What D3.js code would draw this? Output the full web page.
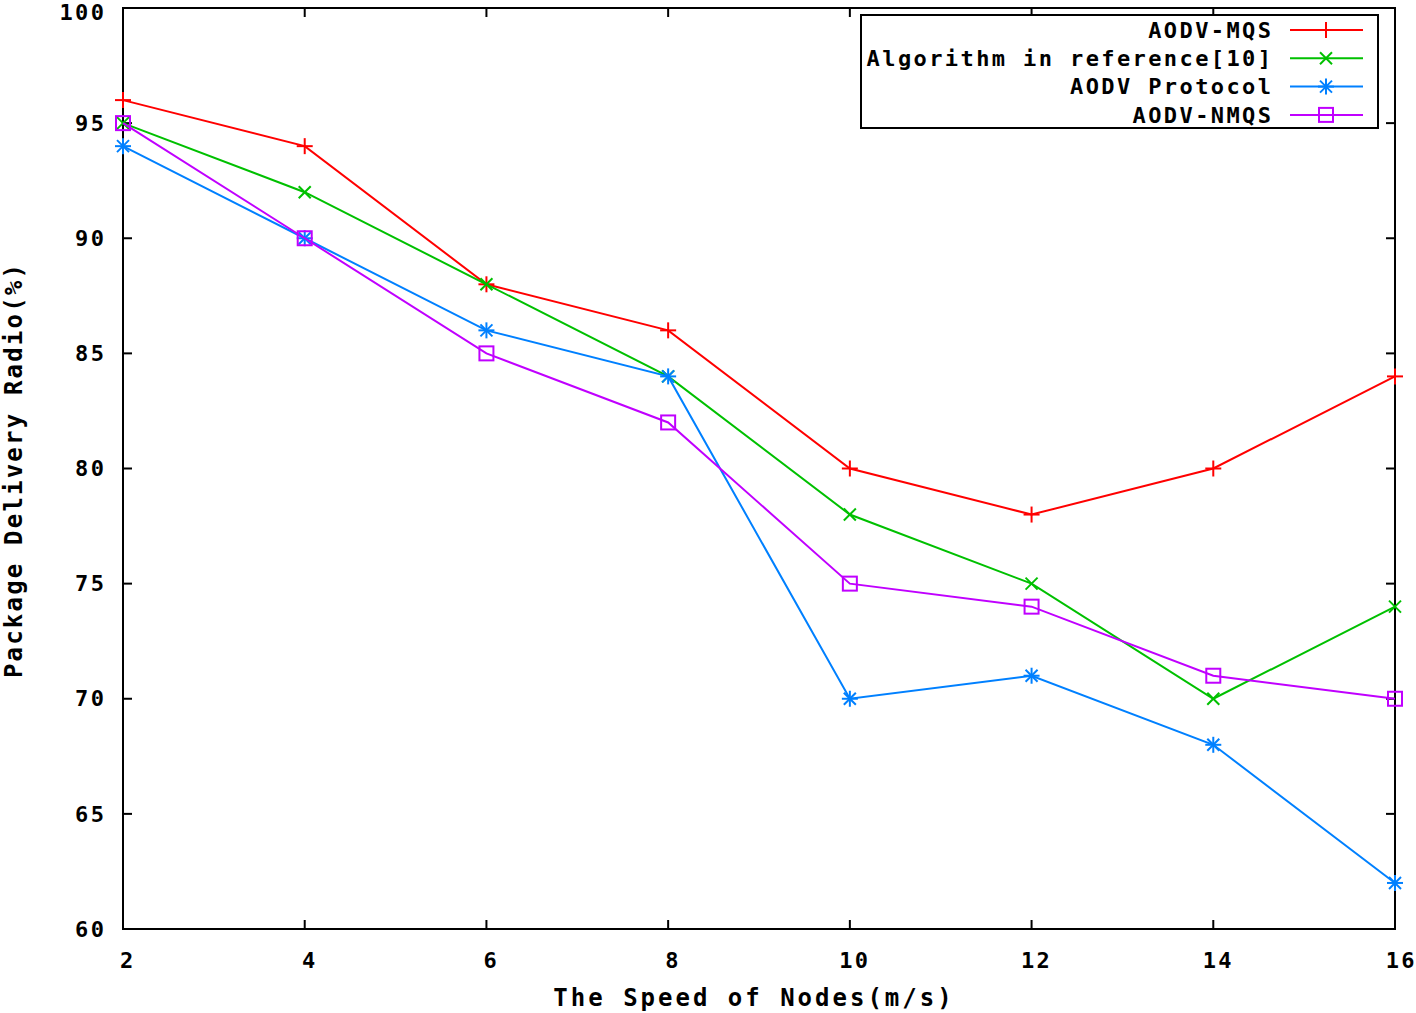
<!DOCTYPE html>
<html><head><meta charset="utf-8">
<script src="https://d3js.org/d3.v7.min.js"></script>
<style>
body{margin:0;background:#fff;}
text{font-family:"DejaVu Sans Mono","Liberation Mono",monospace;font-weight:bold;fill:#000;}
</style></head>
<body><svg id="c" width="1416" height="1013"></svg>
<script>
const speeds = [2,4,6,8,10,12,14,16];
const xTicks = [2,4,6,8,10,12,14,16];
const yTicks = [60,65,70,75,80,85,90,95,100];
const seriesNames = ["AODV-MQS","Algorithm in reference[10]","AODV Protocol","AODV-NMQS"];
const mqs   = [96,94,88,86,80,78,80,84];
const ref10 = [95,92,88,84,78,75,70,74];
const aodv  = [94,90,86,84,70,71,68,62];
const nmqs  = [95,90,85,82,75,74,71,70];
const colors = ["#ff0000","#00c000","#0080ff","#c000ff"];
const markers = ["plus","cross","star","square"];

const svg = d3.select("#c");
const L=123,R=1395,T=8,B=929;
const x = d3.scaleLinear().domain([2,16]).range([L,R]);
const y = d3.scaleLinear().domain([60,100]).range([B,T]);

const seriesData = [mqs,ref10,aodv,nmqs];

// frame
svg.append("rect").attr("x",L).attr("y",T).attr("width",R-L).attr("height",B-T)
  .attr("fill","none").attr("stroke","#000").attr("stroke-width",2);

const LS = 2.4; // letter spacing for small text
// ticks (inward, mirrored)
const tl=9;
yTicks.forEach(v=>{
  svg.append("line").attr("x1",L).attr("x2",L+tl).attr("y1",y(v)).attr("y2",y(v)).attr("stroke","#000").attr("stroke-width",2);
  svg.append("line").attr("x1",R).attr("x2",R-tl).attr("y1",y(v)).attr("y2",y(v)).attr("stroke","#000").attr("stroke-width",2);
  svg.append("text").attr("x",104+LS).attr("y",Math.max(y(v),12)).attr("dy","0.35em").attr("text-anchor","end")
    .attr("font-size",22).attr("letter-spacing",LS).text(v);
});
xTicks.forEach(v=>{
  svg.append("line").attr("x1",x(v)).attr("x2",x(v)).attr("y1",B).attr("y2",B-tl).attr("stroke","#000").attr("stroke-width",2);
  svg.append("line").attr("x1",x(v)).attr("x2",x(v)).attr("y1",T).attr("y2",T+tl).attr("stroke","#000").attr("stroke-width",2);
  let anchor = v===2?"start":(v===16?"end":"middle");
  let xx = v===2?x(v)-3:(v===16?x(v)+22:x(v)+5);
  svg.append("text").attr("x",xx).attr("y",960).attr("dy","0.35em").attr("text-anchor",anchor)
    .attr("font-size",22).attr("letter-spacing",LS).text(v);
});

// axis titles
svg.append("text").attr("x",754).attr("y",998).attr("dy","0.35em").attr("text-anchor","middle")
  .attr("font-size",24).attr("letter-spacing",3).text("The Speed of Nodes(m/s)");
svg.append("text").attr("transform","translate(14,470) rotate(-90)").attr("dy","0.35em")
  .attr("text-anchor","middle").attr("font-size",24).attr("letter-spacing",2.2).text("Package Delivery Radio(%)");

function drawMarker(g,type,cx,cy,color){
  const s=8;
  const st = {stroke:color,"stroke-width":2,fill:"none"};
  const ln=(x1,y1,x2,y2)=>{const l=g.append("line").attr("x1",x1).attr("y1",y1).attr("x2",x2).attr("y2",y2);Object.entries(st).forEach(([k,v])=>l.attr(k,v));};
  if(type==="plus"||type==="star"){ln(cx-s,cy,cx+s,cy);ln(cx,cy-s,cx,cy+s);}
  if(type==="cross"||type==="star"){const d=s*0.75;ln(cx-d,cy-d,cx+d,cy+d);ln(cx-d,cy+d,cx+d,cy-d);}
  if(type==="square"){const r=g.append("rect").attr("x",cx-7).attr("y",cy-7).attr("width",14).attr("height",14);Object.entries(st).forEach(([k,v])=>r.attr(k,v));}
}

const line = d3.line().x((d,i)=>x(speeds[i])).y(d=>y(d));
seriesData.forEach((vals,si)=>{
  svg.append("path").attr("d",line(vals)).attr("fill","none").attr("stroke",colors[si]).attr("stroke-width",2);
  const g = svg.append("g");
  vals.forEach((v,i)=>drawMarker(g,markers[si],x(speeds[i]),y(v),colors[si]));
});

// legend
svg.append("rect").attr("x",861).attr("y",15).attr("width",517).attr("height",113)
  .attr("fill","#fff").attr("stroke","#000").attr("stroke-width",2);
seriesNames.forEach((n,i)=>{
  const yy = 30 + i*28.3;
  svg.append("text").attr("x",1271+LS).attr("y",yy).attr("dy","0.35em").attr("text-anchor","end")
    .attr("font-size",22).attr("letter-spacing",LS).text(n);
  svg.append("line").attr("x1",1290).attr("x2",1363).attr("y1",yy).attr("y2",yy).attr("stroke",colors[i]).attr("stroke-width",2);
  drawMarker(svg.append("g"),markers[i],1326,yy,colors[i]);
});
</script></body></html>
